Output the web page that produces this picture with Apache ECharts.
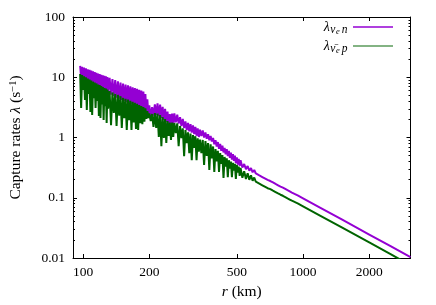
<!DOCTYPE html>
<html><head><meta charset="utf-8">
<script src="https://cdn.jsdelivr.net/npm/echarts@6/dist/echarts.min.js"></script>
<style>html,body{margin:0;padding:0;background:#fff}#c{width:436px;height:305px}</style>
</head><body><div id="c"></div>
<script>
// radius r (km)
const radius = [
 97,98,99,100,101,102,103,104,105,106,107,108,109,110,111,112,113,114,115,116,117,118,119,120,121,122,123,124,125,126,127,128,129,130,
 132,134,136,138,140,142,144,146,148,150,152,154,156,158,160,162,164,166,168,170,172,174,176,178,180,182,184,186,188,190,192,194,196,198,200,
 203,206,209,212,215,218,221,224,227,230,233,236,239,242,245,248,251,254,257,260,
 264,268,272,276,280,284,288,292,296,300,304,308,312,316,320,324,328,332,336,340,
 345,350,355,360,365,370,375,380,385,390,395,400,405,410,415,420,425,430,435,440,445,450,455,460,465,470,475,480,485,490,495,500,505,510,515,520,
 530,540,550,560,570,580,590,600,610,620,630,640,650,660,670,680,690,700,710,720,730,740,750,760,770,780,790,800,810,820,830,840,850,860,870,880,890,900,
 950,1000,1200,1500,2000,2500,3080
];
// lambda_{nu_e n} (s^-1)
const rateNuN = [
 15.4,9.85,14.9,9.45,14.45,9.05,14.0,8.6,13.55,8.3,13.25,7.95,12.85,7.65,12.5,7.4,12.15,7.2,11.8,6.95,11.55,6.62,11.25,6.42,11.0,6.2,10.8,6.0,10.55,5.8,10.35,5.68,10.1,5.5,
 9.75,5.15,9.35,4.88,8.95,4.6,8.55,4.4,8.15,4.2,7.85,4.03,7.55,3.87,7.35,3.7,7.1,3.56,6.78,3.42,6.6,3.2,6.4,3.14,6.2,3.06,6.0,2.95,5.8,2.78,5.25,2.52,4.3,2.39,3.4,
 2.23,3.2,2.31,3.53,2.36,3.68,2.27,3.53,2.11,3.24,1.95,2.98,1.81,2.7,1.67,2.45,1.64,2.5,1.61,2.52,
 1.78,2.4,1.70,2.18,1.55,2.03,1.44,1.85,1.33,1.74,1.27,1.66,1.21,1.59,1.14,1.5,1.07,1.42,1.02,1.35,
 1.06,1.31,1.0,1.21,0.95,1.13,0.9,1.06,0.86,0.98,0.77,0.9,0.71,0.84,0.65,0.78,0.6,0.73,0.565,0.67,0.525,0.64,0.49,0.6,0.46,0.56,0.43,0.53,0.41,0.5,0.376,0.47,0.355,0.44,0.34,0.42,
 0.318,0.362,0.298,0.336,0.2810,0.311,0.2646,0.2885,0.2529,0.2651,0.237,0.2489,0.2227,0.234,0.2096,0.2204,0.1976,0.208,0.1895,0.1937,0.1793,0.1835,0.1698,0.1739,0.1612,0.1651,0.1531,0.1569,0.1472,0.1479,0.1402,0.141,0.1336,0.1345,0.1276,0.1285,0.1218,0.1228,
 0.1086,0.098,0.068,0.0436,0.0245,0.0157,0.0103
];
// lambda_{nubar_e p} (s^-1)
const rateNubarP = [
 11.3,3.1,10.9,6.15,10.4,4.2,10.0,2.86,9.55,5.3,9.2,2.65,8.8,2.36,8.45,4.5,8.15,3.1,7.9,4.05,7.6,2.27,7.4,2.11,7.17,3.55,6.9,1.95,6.65,3.3,6.47,1.74,6.27,3.0,
 5.9,1.6,5.6,2.55,5.3,1.55,5.1,2.3,4.85,1.44,4.57,2.1,4.4,1.33,4.25,1.93,4.07,1.33,3.92,1.78,3.77,1.38,3.61,1.33,3.47,1.72,3.33,1.67,3.2,1.83,3.06,2.03,2.74,2.11,2.5,
 1.88,2.45,1.5,2.55,1.44,2.5,1.02,2.36,0.72,2.19,0.98,2.03,0.81,1.88,1.06,1.77,0.91,1.77,1.02,1.74,
 1.18,1.72,0.72,1.55,0.98,1.42,0.49,1.33,0.81,1.22,0.55,1.16,0.42,1.1,0.67,1.05,0.42,0.97,0.58,0.92,
 0.55,0.91,0.35,0.87,0.495,0.81,0.29,0.77,0.45,0.71,0.268,0.645,0.4,0.6,0.268,0.55,0.365,0.51,0.213,0.475,0.33,0.45,0.22,0.42,0.305,0.4,0.22,0.38,0.283,0.365,0.205,0.35,0.262,0.33,0.23,0.312,
 0.215,0.275,0.205,0.255,0.198,0.236,0.1909,0.2166,0.1844,0.1973,0.1729,0.1852,0.1625,0.1741,0.1529,0.164,0.1441,0.1548,0.139,0.1435,0.1314,0.1359,0.1245,0.1289,0.1181,0.1223,0.1122,0.1162,0.1079,0.1095,0.1028,0.1044,0.0979,0.0997,0.0935,0.0952,0.0894,0.091,
 0.08,0.0722,0.0502,0.0321,0.0181,0.01156,0.0076
];
const xTickValues = [100, 200, 500, 1000, 2000];
const yTickValues = [0.01, 0.1, 1, 10, 100];
const yMinorTicks = [0.02,0.03,0.04,0.05,0.06,0.07,0.08,0.09,0.2,0.3,0.4,0.5,0.6,0.7,0.8,0.9,2,3,4,5,6,7,8,9,20,30,40,50,60,70,80,90];
const seriesNames = ['nue_n', 'nuebar_p'];
const legendLabels = {
  nue_n: '{l|λ}{s|ν}{ss|e}{s|n}',
  nuebar_p: '{l|λ}{s|ν̄}{ss|e}{s|p}'
};
const colors = ['#9400d3', '#006400'];

const FONT = '"Liberation Serif", "DejaVu Serif", serif';
function pairs(v) { return radius.map((r, i) => [r, v[i]]); }

const chart = echarts.init(document.getElementById('c'), null, {renderer: 'canvas'});
const line = {lineStyle: {color: '#000', width: 1}};
const xBase = {type: 'log', min: 90, max: 3080, splitLine: {show: false}, minorTick: {show: false}, minorSplitLine: {show: false}};
const yBase = {type: 'log', min: 0.01, max: 100, splitLine: {show: false}, minorTick: {show: false}, minorSplitLine: {show: false}};
const lbl = {fontFamily: FONT, fontSize: 13.5, color: '#000'};
const ttl = {fontFamily: FONT, fontSize: 15.5, color: '#000'};

chart.setOption({
  animation: false,
  grid: {left: 71, right: 25.5, top: 17, bottom: 47},
  xAxis: [
    Object.assign({}, xBase, {
      position: 'bottom',
      name: '{i|r} (km)', nameLocation: 'middle', nameGap: 25,
      nameTextStyle: Object.assign({}, ttl, {rich: {i: Object.assign({}, ttl, {fontStyle: 'italic'})}}),
      axisLine: Object.assign({show: true}, line),
      axisTick: {inside: true, length: 4, customValues: xTickValues, lineStyle: {color: '#000'}},
      axisLabel: Object.assign({}, lbl, {customValues: xTickValues, margin: 7, formatter: v => String(v)})
    }),
    Object.assign({}, xBase, {
      position: 'top',
      axisLine: Object.assign({show: true}, line),
      axisTick: {inside: true, length: 4, customValues: xTickValues, lineStyle: {color: '#000'}},
      axisLabel: {show: false}
    })
  ],
  yAxis: [
    Object.assign({}, yBase, {
      position: 'left',
      name: '{t|Capture rates }{g|λ}{t| (s}{sup|−1}{t|)}', nameLocation: 'middle', nameGap: 49, nameRotate: 90,
      nameTextStyle: Object.assign({}, ttl, {rich: {
        t: ttl, g: Object.assign({}, ttl, {fontStyle: 'italic'}),
        sup: Object.assign({}, ttl, {fontSize: 10.5, verticalAlign: 'top'})
      }}),
      axisLine: Object.assign({show: true}, line),
      axisTick: {inside: true, length: 4, customValues: yTickValues, lineStyle: {color: '#000'}},
      axisLabel: Object.assign({}, lbl, {customValues: yTickValues, margin: 8, formatter: v => String(v)})
    }),
    Object.assign({}, yBase, {
      position: 'left',
      axisLine: {show: false},
      axisTick: {inside: true, length: 2, customValues: yMinorTicks, lineStyle: {color: '#000'}},
      axisLabel: {show: false}
    }),
    Object.assign({}, yBase, {
      position: 'right',
      axisLine: Object.assign({show: true}, line),
      axisTick: {inside: true, length: 4, customValues: yTickValues, lineStyle: {color: '#000'}},
      axisLabel: {show: false}
    }),
    Object.assign({}, yBase, {
      position: 'right',
      axisLine: {show: false},
      axisTick: {inside: true, length: 2, customValues: yMinorTicks, lineStyle: {color: '#000'}},
      axisLabel: {show: false}
    })
  ],
  legend: {
    right: 38, top: 13, orient: 'vertical', align: 'right',
    itemWidth: 40, itemHeight: 1.5, itemGap: 1,
    data: [{name: seriesNames[0], icon: 'rect'}, {name: seriesNames[1], icon: 'rect', itemStyle: {color: '#5a9a5a'}}],
    formatter: n => legendLabels[n],
    textStyle: Object.assign({}, lbl, {lineHeight: 16, rich: {
      l: Object.assign({}, lbl, {fontStyle: 'italic', fontSize: 14}),
      s: Object.assign({}, lbl, {fontStyle: 'italic', fontSize: 11.5, verticalAlign: 'bottom', lineHeight: 18, padding: [0, 0.5, 0, 0.5]}),
      ss: Object.assign({}, lbl, {fontStyle: 'italic', fontSize: 8.5, verticalAlign: 'bottom', lineHeight: 15, padding: [0, 1.5, 0, 0]})
    }})
  },
  series: [
    {type: 'line', name: seriesNames[0], data: pairs(rateNuN), showSymbol: false, symbol: 'none', clip: true,
     lineStyle: {color: colors[0], width: 2}, itemStyle: {color: colors[0]}},
    {type: 'line', name: seriesNames[1], data: pairs(rateNubarP), showSymbol: false, symbol: 'none', clip: true,
     lineStyle: {color: colors[1], width: 2}, itemStyle: {color: colors[1]}}
  ]
});
</script>
</body></html>
